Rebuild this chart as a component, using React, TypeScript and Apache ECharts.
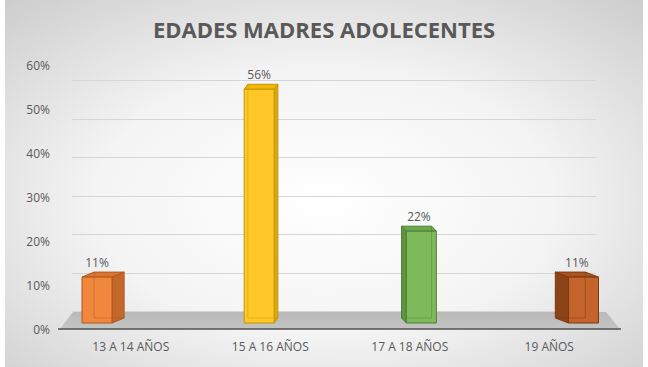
import React, { useEffect, useRef } from "react";
import * as echarts from "echarts";

// Age groups and their share of adolescent mothers (percent)
const categories = ["13 A 14 AÑOS", "15 A 16 AÑOS", "17 A 18 AÑOS", "19 AÑOS"];
const shares = [11, 56, 22, 11];
const yTicks = [0, 10, 20, 30, 40, 50, 60];

// Face colours for each box: front, side, top and edge strokes
const palette = [
  { front: "#EF873D", side: "#C3672B", top: "#DC7533", edge: "#B2571D" },
  { front: "#FFC828", side: "#DDA70F", top: "#F3B806", edge: "#C39500" },
  { front: "#7DBB5A", side: "#5F9442", top: "#6CA94C", edge: "#4F7E33" },
  { front: "#C4632B", side: "#8C4317", top: "#A9531F", edge: "#7A390F" },
];

const TEXT = "#595959";
const FONT = "Open Sans";

export default function App() {
  const ref = useRef<HTMLDivElement>(null);

  useEffect(() => {
    if (!ref.current) return;
    const chart = echarts.init(ref.current, null, { renderer: "svg" });

    const yMin = yTicks[0];
    const yMax = yTicks[yTicks.length - 1];
    const yStep = yTicks[1] - yTicks[0];

    const option: any = {
      animation: false,
      backgroundColor: "#ffffff",
      title: {
        text: "EDADES MADRES ADOLECENTES",
        left: "center",
        top: 13,
        textStyle: {
          fontFamily: FONT,
          fontWeight: "bold",
          fontSize: 22,
          color: TEXT,
        },
      },
      grid: [
        // front plane: axis labels
        { left: 61, right: 29, top: 65, bottom: 38 },
        // back wall: gridlines
        { left: 72, right: 52, top: 80.7, bottom: 55.3 },
        // middle depth: the boxes
        { left: 97, right: 64.5, top: 72.6, bottom: 44 },
      ],
      xAxis: [
        {
          gridIndex: 0,
          type: "category",
          data: categories,
          axisLine: { show: false },
          axisTick: { show: false },
          axisLabel: { color: TEXT, fontSize: 12, fontFamily: FONT, margin: 11 },
        },
        { gridIndex: 1, type: "category", data: categories, show: false },
        { gridIndex: 2, type: "category", data: categories, boundaryGap: false, show: false },
      ],
      yAxis: [
        {
          gridIndex: 0,
          type: "value",
          min: yMin,
          max: yMax,
          interval: yStep,
          axisLine: { show: false },
          axisTick: { show: false },
          splitLine: { show: false },
          axisLabel: {
            formatter: "{value}%",
            color: TEXT,
            fontSize: 12,
            fontFamily: FONT,
            margin: 11,
          },
        },
        {
          gridIndex: 1,
          type: "value",
          min: yMin,
          max: yMax,
          interval: yStep,
          axisLine: { show: false },
          axisTick: { show: false },
          axisLabel: { show: false },
          splitLine: { show: true, lineStyle: { color: "#d6d6d6", width: 1 } },
        },
        {
          gridIndex: 2,
          type: "value",
          min: yMin,
          max: yMax,
          interval: yStep,
          show: false,
        },
      ],
      graphic: [
        {
          type: "rect",
          z: -100,
          silent: true,
          shape: { x: 5, y: 0, width: 638, height: 367 },
          style: {
            fill: new echarts.graphic.RadialGradient(0.5, 0.55, 0.9, [
              { offset: 0, color: "#ffffff" },
              { offset: 0.4, color: "#f4f4f4" },
              { offset: 1, color: "#bdbdbd" },
            ]),
          },
        },
        {
          // floor of the 3D plot
          type: "polygon",
          z: 1,
          silent: true,
          shape: { points: [[60, 329], [620, 329], [606, 312], [73, 312]] },
          style: {
            fill: new echarts.graphic.LinearGradient(0, 0, 0, 1, [
              { offset: 0, color: "#b9b9b9" },
              { offset: 1, color: "#c4c4c4" },
            ]),
          },
        },
        {
          type: "line",
          z: 1,
          silent: true,
          shape: { x1: 58, y1: 329, x2: 621, y2: 329 },
          style: { stroke: "#505050", lineWidth: 1.6 },
        },
      ],
      series: [
        {
          type: "custom",
          xAxisIndex: 2,
          yAxisIndex: 2,
          z: 3,
          data: shares.map((v, i) => [i, v]),
          encode: { x: 0, y: 1 },
          renderItem: (params: any, api: any) => {
            const i = api.value(0) as number;
            const v = api.value(1) as number;
            const base = api.coord([i, 0]);
            const peak = api.coord([i, v]);
            const cx = base[0];
            const half = 15;
            // perspective: boxes left of the centre show their right side, and vice versa
            const dx = 0.052 * (330 - cx);
            const dy = -5;
            const c = palette[params.dataIndex % palette.length];
            const L = cx - half;
            const R = cx + half;
            const T = peak[1];
            const B = base[1];
            const sx = dx >= 0 ? R : L;
            const hx = dx >= 0 ? L + dx : R + dx;
            const hx2 = dx >= 0 ? R + dx : L + dx;
            const labelX = dx < 0 ? cx + dx * 0.5 : cx;
            return {
              type: "group",
              children: [
                {
                  type: "polygon",
                  shape: { points: [[sx, T], [sx + dx, T + dy], [sx + dx, B + dy], [sx, B]] },
                  style: { fill: c.side, stroke: c.edge, lineWidth: 1 },
                },
                {
                  type: "polygon",
                  shape: { points: [[L, T], [R, T], [R + dx, T + dy], [L + dx, T + dy]] },
                  style: { fill: c.top, stroke: c.edge, lineWidth: 1 },
                },
                {
                  type: "rect",
                  shape: { x: L, y: T, width: R - L, height: B - T },
                  style: { fill: c.front, stroke: c.edge, lineWidth: 1 },
                },
                {
                  // rear edges seen through the translucent box
                  type: "polyline",
                  shape: { points: [[hx, T + dy], [hx, B + dy], [hx2, B + dy]] },
                  style: { stroke: c.edge, lineWidth: 1, opacity: 0.45, fill: null },
                },
                {
                  type: "text",
                  style: {
                    text: v + "%",
                    x: labelX,
                    y: T + dy - 9.5,
                    align: "center",
                    verticalAlign: "middle",
                    fill: TEXT,
                    fontSize: 12,
                    fontFamily: FONT,
                  },
                },
              ],
            };
          },
        },
      ],
    };

    chart.setOption(option);
    return () => chart.dispose();
  }, []);

  return (
    <div
      ref={ref}
      style={{ position: "absolute", left: 0, top: 0, width: 648, height: 367 }}
    />
  );
}
